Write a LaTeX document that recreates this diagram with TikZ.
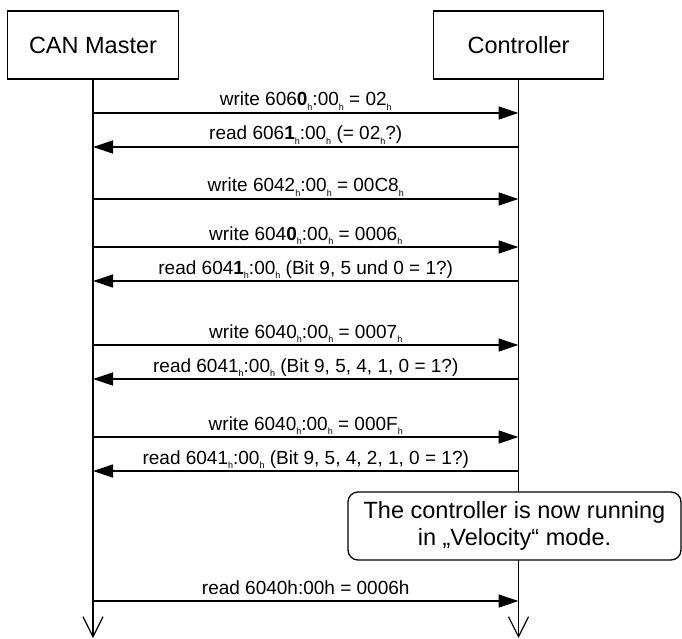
\documentclass[tikz,border=0pt]{standalone}
\usepackage{fontspec}
\setmainfont{Liberation Sans}
\usetikzlibrary{arrows.meta}
\newcommand\hsub{\raisebox{-4.5pt}{\fontsize{9}{9}\selectfont h}}
\begin{document}
\begin{tikzpicture}[x=1pt,y=-1pt,
  actor/.style={draw, line width=1.3pt, minimum width=170.5pt, minimum height=68pt, inner sep=0pt, font=\fontsize{23.5}{28}\selectfont},
  life/.style={line width=1.3pt, -{Straight Barb[length=20pt,width=20pt,line width=1.2pt]}},
  msg/.style={line width=1.3pt, -{Triangle[length=20pt,width=13pt]}},
  lbl/.style={anchor=base, inner sep=0pt, font=\fontsize{19}{22}\selectfont},
  notebox/.style={draw, fill=white, rounded corners=10pt, line width=1.3pt, minimum width=333pt, minimum height=68pt, inner sep=0pt, align=center, font=\fontsize{23.5}{27}\selectfont}
]
\useasboundingbox (0,0) rectangle (682,639);
\fill[white] (0,0) rectangle (682,639);

\node[actor] (master) at (93,45) {CAN Master};
\node[actor] (ctrl) at (518.5,45) {Controller};

\coordinate (mEnd) at (93,638);
\coordinate (cEnd) at (518.5,638);
\draw[life] (master.south) -- (mEnd);
\draw[life] (ctrl.south) -- (cEnd);

% message end points
\foreach \i/\y in {1/113,2/147,3/199,4/247,5/281,6/345,7/379,8/437,9/471,10/601}{
  \coordinate (m\i) at (93,\y);
  \coordinate (c\i) at (518.5,\y);
}

\draw[msg] (m1) -- (c1);
\node[lbl] (l1) at (305.75,106) {write 606\textbf{0}\hsub:00\hsub{} = 02\hsub};
\draw[msg] (c2) -- (m2);
\node[lbl] (l2) at (305.75,140) {read 606\textbf{1}\hsub:00\hsub{} (= 02\hsub?)};
\draw[msg] (m3) -- (c3);
\node[lbl] (l3) at (305.75,192) {write 6042\hsub:00\hsub{} = 00C8\hsub};
\draw[msg] (m4) -- (c4);
\node[lbl] (l4) at (305.75,240) {write 604\textbf{0}\hsub:00\hsub{} = 0006\hsub};
\draw[msg] (c5) -- (m5);
\node[lbl] (l5) at (305.75,274) {read 604\textbf{1}\hsub:00\hsub{} (Bit 9, 5 und 0 = 1?)};
\draw[msg] (m6) -- (c6);
\node[lbl] (l6) at (305.75,338) {write 6040\hsub:00\hsub{} = 0007\hsub};
\draw[msg] (c7) -- (m7);
\node[lbl] (l7) at (305.75,372) {read 6041\hsub:00\hsub{} (Bit 9, 5, 4, 1, 0 = 1?)};
\draw[msg] (m8) -- (c8);
\node[lbl] (l8) at (305.75,430) {write 6040\hsub:00\hsub{} = 000F\hsub};
\draw[msg] (c9) -- (m9);
\node[lbl] (l9) at (305.75,464) {read 6041\hsub:00\hsub{} (Bit 9, 5, 4, 2, 1, 0 = 1?)};

\node[notebox] (note) at (514.5,526) {The controller is now running\\in „Velocity“ mode.};

\draw[msg] (m10) -- (c10);
\node[lbl] (l10) at (305.75,594) {read 6040h:00h = 0006h};
\end{tikzpicture}
\end{document}
